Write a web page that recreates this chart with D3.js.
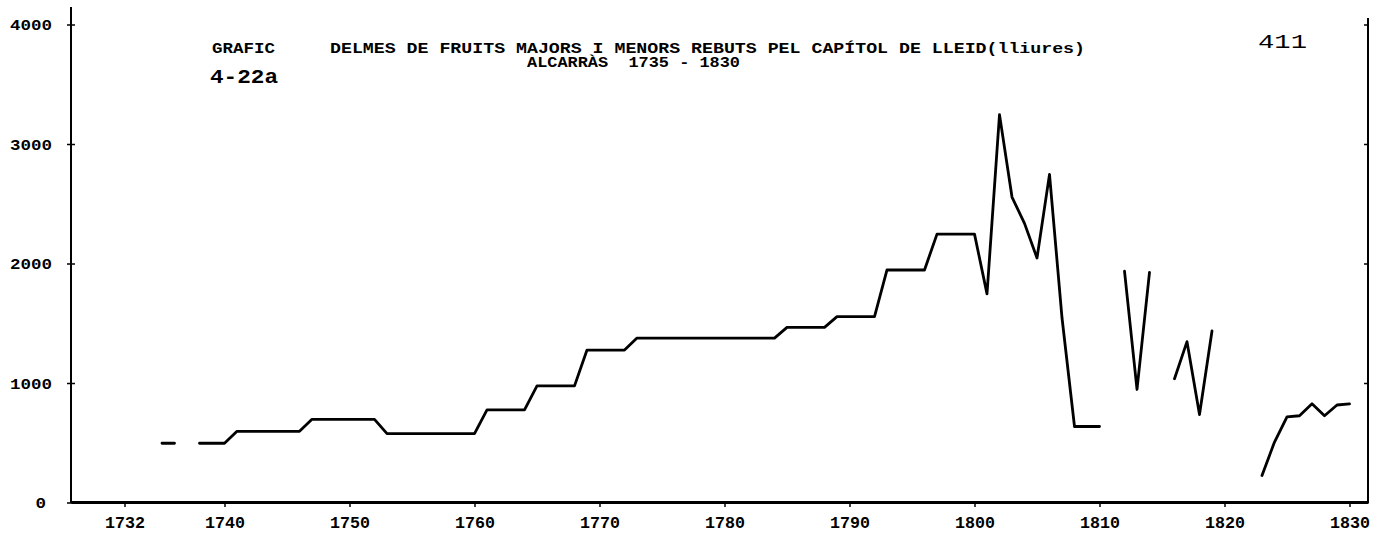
<!DOCTYPE html>
<html><head><meta charset="utf-8">
<script src="https://cdn.jsdelivr.net/npm/d3@7"></script>
<style>
html,body{margin:0;padding:0;background:#fff;}
svg{display:block;}
text{font-family:"Liberation Mono","DejaVu Sans Mono",monospace;fill:#000;}
</style></head><body>
<svg id="chart" width="1377" height="540"></svg>
<script>
// ---- data (livres) ----
const years = [1735,1736,1737,1738,1739,1740,1741,1742,1743,1744,1745,1746,1747,1748,1749,1750,
  1751,1752,1753,1754,1755,1756,1757,1758,1759,1760,1761,1762,1763,1764,1765,1766,1767,1768,1769,1770,
  1771,1772,1773,1774,1775,1776,1777,1778,1779,1780,1781,1782,1783,1784,1785,1786,1787,1788,1789,1790,
  1791,1792,1793,1794,1795,1796,1797,1798,1799,1800,1801,1802,1803,1804,1805,1806,1807,1808,1809,1810,
  1811,1812,1813,1814,1815,1816,1817,1818,1819,1820,1821,1822,1823,1824,1825,1826,1827,1828,1829,1830];
const values = [500,500,null,500,500,500,600,600,600,600,600,600,700,700,700,700,
  700,700,580,580,580,580,580,580,580,580,780,780,780,780,980,980,980,980,1280,1280,
  1280,1280,1380,1380,1380,1380,1380,1380,1380,1380,1380,1380,1380,1380,1470,1470,1470,1470,1560,1560,
  1560,1560,1950,1950,1950,1950,2250,2250,2250,2250,1750,3250,2560,2340,2050,2750,1550,640,640,640,
  null,1940,950,1930,null,1040,1350,740,1440,null,null,null,230,510,720,730,830,730,820,830];
const xTicks = [1732,1740,1750,1760,1770,1780,1790,1800,1810,1820,1830];
const yTicks = [0,1000,2000,3000,4000];
const titleText = "DELMES DE FRUITS MAJORS I MENORS REBUTS PEL CAPÍTOL DE LLEID(lliures)";
const subtitleText = "ALCARRÀS  1735 - 1830";
const graficText = "GRAFIC";
const graficNum = "4-22a";
const pageNum = "411";

// ---- scales ----
const x = d3.scaleLinear().domain([1727.72, 1831.48]).range([71, 1368]);
const y = d3.scaleLinear().domain([0, 4000]).range([503, 25]);
const svg = d3.select('#chart');

// frame lines
svg.append('line').attr('x1',71).attr('x2',71).attr('y1',7).attr('y2',503)
  .attr('stroke','#000').attr('stroke-width',2);
svg.append('line').attr('x1',1368).attr('x2',1368).attr('y1',18).attr('y2',503)
  .attr('stroke','#000').attr('stroke-width',2);

// y ticks + labels
const gy = svg.append('g');
gy.selectAll('line.lt').data(yTicks).enter().append('line')
  .attr('x1',67).attr('x2',75).attr('y1',d=>y(d)).attr('y2',d=>y(d))
  .attr('stroke','#000').attr('stroke-width',1.5);
gy.selectAll('line.rt').data(yTicks).enter().append('line')
  .attr('x1',1364).attr('x2',1368).attr('y1',d=>y(d)).attr('y2',d=>y(d))
  .attr('stroke','#000').attr('stroke-width',1.5);
gy.selectAll('text').data(yTicks).enter().append('text')
  .attr('x',d=> d===0 ? 46 : 52).attr('y',d=>y(d)+5)
  .attr('text-anchor','end').attr('font-size',15).attr('font-weight','bold')
  .attr('textLength',d=>String(d).length*10.5).attr('lengthAdjust','spacingAndGlyphs')
  .text(d=>d);

// x axis
const xAxis = d3.axisBottom(x).tickValues(xTicks).tickSize(5).tickSizeOuter(0).tickFormat(d=>String(d));
const gx = svg.append('g').attr('transform','translate(0,502)').call(xAxis);
gx.select('.domain').attr('stroke','#000').attr('stroke-width',3);
gx.selectAll('.tick line').attr('stroke','#000').attr('stroke-width',1.5);
gx.selectAll('.tick text').attr('y',26).attr('dy',0)
  .attr('font-size',17).attr('font-weight','bold')
  .attr('font-family','"Liberation Mono","DejaVu Sans Mono",monospace')
  .attr('textLength',40).attr('lengthAdjust','spacingAndGlyphs').attr('fill','#000');

// data line
const pts = years.map((yr,i)=>({yr, v: values[i]}));
const line = d3.line().defined(d=>d.v!==null).x(d=>x(d.yr)).y(d=>y(d.v));
svg.append('path').datum(pts).attr('d',line)
  .attr('fill','none').attr('stroke','#000').attr('stroke-width',2.8)
  .attr('stroke-linejoin','round').attr('stroke-linecap','round');

// titles
svg.append('text').attr('x',212).attr('y',53).attr('font-size',14).attr('font-weight','bold')
  .attr('textLength',63).attr('lengthAdjust','spacingAndGlyphs').text(graficText);
svg.append('text').attr('x',330).attr('y',53).attr('font-size',14).attr('font-weight','bold')
  .attr('textLength',755).attr('lengthAdjust','spacingAndGlyphs').text(titleText);
svg.append('text').attr('x',527).attr('y',67).attr('font-size',14).attr('font-weight','bold')
  .attr('textLength',213).attr('lengthAdjust','spacingAndGlyphs').attr('xml:space','preserve')
  .style('white-space','pre').text(subtitleText);
svg.append('text').attr('x',210).attr('y',83).attr('font-size',21).attr('font-weight','bold')
  .attr('textLength',68).attr('lengthAdjust','spacingAndGlyphs').text(graficNum);
svg.append('text').attr('x',1258).attr('y',48).attr('font-size',20)
  .attr('textLength',49).attr('lengthAdjust','spacingAndGlyphs').text(pageNum);
</script>
</body></html>
